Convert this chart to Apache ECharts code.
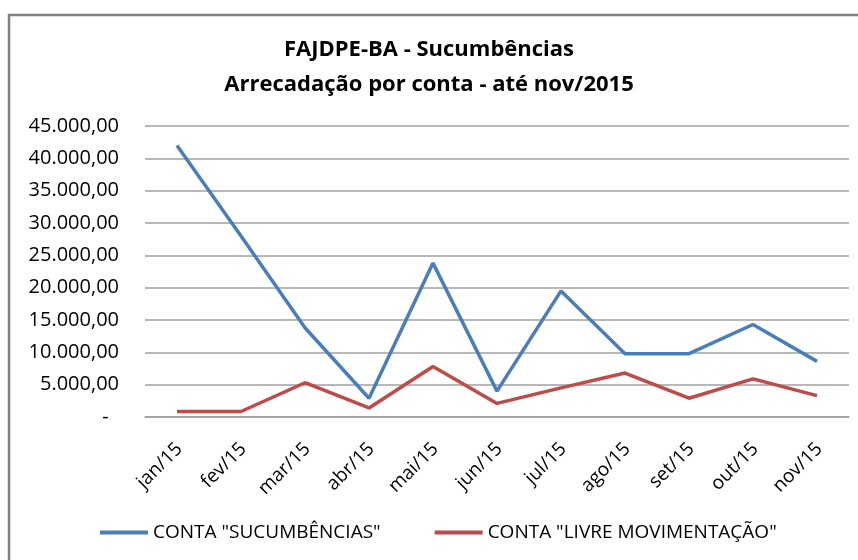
<!DOCTYPE html>
<html>
<head>
<meta charset="utf-8">
<script src="https://cdn.jsdelivr.net/npm/echarts@6/dist/echarts.min.js"></script>
<style>
  html, body { margin: 0; padding: 0; background: #fff; }
  #chart { width: 858px; height: 560px; }
</style>
</head>
<body>
<div id="chart"></div>
<script>
// dados
const meses = ['jan/15', 'fev/15', 'mar/15', 'abr/15', 'mai/15', 'jun/15', 'jul/15', 'ago/15', 'set/15', 'out/15', 'nov/15']
const sucumbencias = [42000, 28000, 13800, 2900, 23800, 4000, 19500, 9800, 9800, 14300, 8600]
const livreMov = [850, 850, 5300, 1400, 7800, 2100, 4500, 6800, 2900, 5900, 3300]
const nomeSerie1 = 'CONTA "SUCUMBÊNCIAS"'
const nomeSerie2 = 'CONTA "LIVRE MOVIMENTAÇÃO"'

const fonte = 'Open Sans'

function formatBR(v) {
  if (v === 0) return '-  '
  return v.toLocaleString('pt-BR', { minimumFractionDigits: 2, maximumFractionDigits: 2 })
}

const chart = echarts.init(document.getElementById('chart'))
chart.setOption({
  animation: false,
  textStyle: { fontFamily: fonte },
  graphic: [{
    type: 'rect',
    shape: { x: 9, y: 15, width: 900, height: 600 },
    style: { fill: 'none', stroke: '#808080', lineWidth: 2.5 },
    z: -1
  }],
  title: {
    text: 'FAJDPE-BA - Sucumbências\nArrecadação por conta - até nov/2015',
    left: 'center',
    top: 27,
    textStyle: { fontFamily: fonte, fontSize: 22, fontWeight: 'bold', color: '#000', lineHeight: 35 }
  },
  legend: {
    top: 523,
    left: 100,
    padding: 0,
    itemWidth: 48,
    itemHeight: 4,
    itemGap: 54,
    icon: 'rect',
    textStyle: { fontFamily: fonte, fontSize: 19, color: '#000' },
    data: [nomeSerie1, nomeSerie2]
  },
  grid: { left: 145, right: 9, top: 126, bottom: 143 },
  xAxis: {
    type: 'category',
    data: meses,
    boundaryGap: true,
    axisLine: { lineStyle: { color: '#a0a0a0', width: 1.5 } },
    axisTick: { show: false },
    axisLabel: {
      rotate: 45,
      margin: 18,
      verticalAlign: 'top',
      padding: [0, 6, 0, 0],
      fontFamily: fonte,
      fontSize: 19,
      color: '#000'
    }
  },
  yAxis: {
    type: 'value',
    min: 0,
    max: 45000,
    interval: 5000,
    axisLine: { show: false },
    axisTick: { show: false },
    splitLine: { lineStyle: { color: '#a0a0a0', width: 1.5 } },
    axisLabel: {
      margin: 26,
      fontFamily: fonte,
      fontSize: 20,
      color: '#000',
      formatter: formatBR
    }
  },
  series: [
    {
      name: nomeSerie1,
      type: 'line',
      data: sucumbencias,
      symbol: 'none',
      lineStyle: { color: '#4a7ebb', width: 3.5 },
      itemStyle: { color: '#4a7ebb' }
    },
    {
      name: nomeSerie2,
      type: 'line',
      data: livreMov,
      symbol: 'none',
      lineStyle: { color: '#be4b48', width: 3.5 },
      itemStyle: { color: '#be4b48' }
    }
  ]
})
window.addEventListener('resize', () => chart.resize())
</script>
</body>
</html>
